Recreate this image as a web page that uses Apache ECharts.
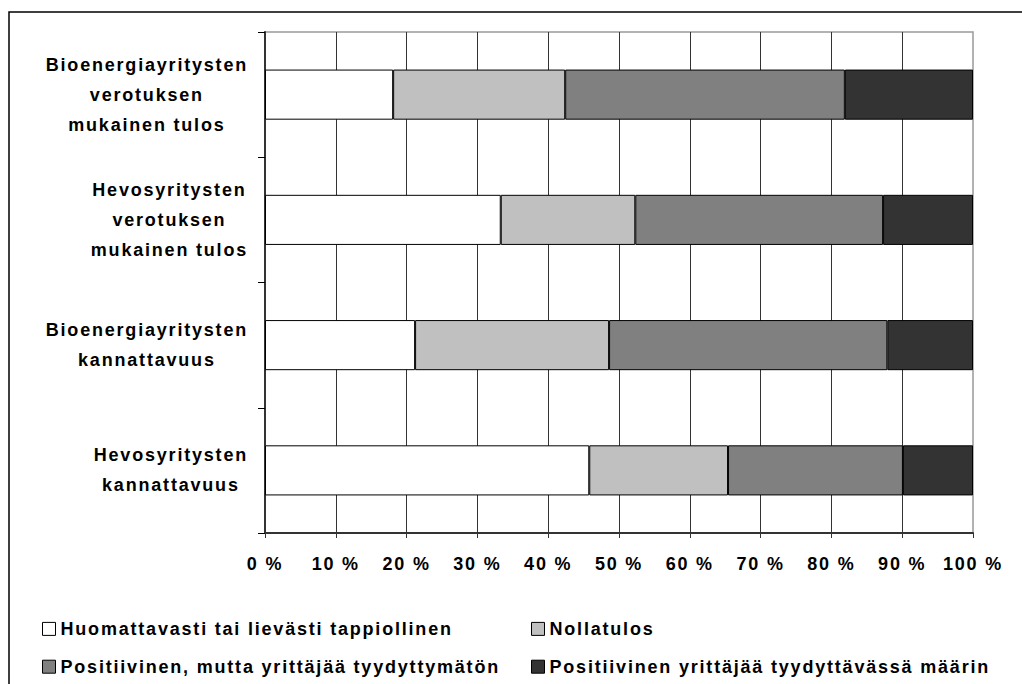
<!DOCTYPE html>
<html>
<head>
<meta charset="utf-8">
<script src="https://cdn.jsdelivr.net/npm/echarts@6/dist/echarts.min.js"></script>
<style>
html,body{margin:0;padding:0;background:#fff;}
#chart{width:1022px;height:684px;}
#chart text{letter-spacing:1.8px;}
</style>
</head>
<body>
<div id="chart"></div>
<script>
const categories = [
  "Bioenergiayritysten\nverotuksen\nmukainen tulos",
  "Hevosyritysten\nverotuksen\nmukainen tulos",
  "Bioenergiayritysten\nkannattavuus",
  "Hevosyritysten\nkannattavuus"
];
const seriesNames = [
  "Huomattavasti tai lievästi tappiollinen",
  "Nollatulos",
  "Positiivinen, mutta yrittäjää tyydyttymätön",
  "Positiivinen yrittäjää tyydyttävässä määrin"
];
const tappiollinen = [18.1, 33.3, 21.2, 45.8];
const nollatulos = [24.3, 19.0, 27.4, 19.6];
const tyydyttymaton = [39.5, 35.0, 39.3, 24.7];
const tyydyttava = [18.1, 12.7, 12.1, 9.9];
const xTicks = [0, 10, 20, 30, 40, 50, 60, 70, 80, 90, 100];

const colors = ['#FFFFFF', '#C0C0C0', '#808080', '#333333'];
const seriesData = [tappiollinen, nollatulos, tyydyttymaton, tyydyttava];
const FONT = '"Liberation Sans", Arial, sans-serif';
const LS = 1.8;

// text measurement that accounts for the letter spacing used when drawing
const mctx = document.createElement('canvas').getContext('2d');
echarts.setPlatformAPI({
  measureText: function (text, font) {
    mctx.font = font || '12px sans-serif';
    const w = mctx.measureText(text).width;
    return { width: w + String(text).length * LS };
  }
});

const chart = echarts.init(document.getElementById('chart'), null, { renderer: 'svg' });
const legendText = { fontFamily: FONT, fontSize: 18, fontWeight: 'bold', color: '#000' };
const option = {
  backgroundColor: '#fff',
  animation: false,
  graphic: [{
    type: 'rect',
    shape: { x: 9, y: 12, width: 1100, height: 800 },
    style: { fill: 'none', stroke: '#000', lineWidth: 1.5 },
    silent: true
  }],
  grid: {
    left: 265, right: 49, top: 32, bottom: 151,
    show: true, borderColor: '#999', borderWidth: 1.5, backgroundColor: 'transparent'
  },
  xAxis: {
    type: 'value',
    min: 0, max: 100, interval: 10,
    axisLine: { show: true, lineStyle: { color: '#333', width: 2 } },
    axisTick: { show: true, length: 5, lineStyle: { color: '#333' } },
    splitLine: { show: true, showMaxLine: false, lineStyle: { color: '#333', width: 1 } },
    axisLabel: {
      margin: 21,
      fontFamily: FONT, fontSize: 18, fontWeight: 'bold', color: '#000',
      formatter: function (v) { return xTicks.indexOf(v) >= 0 ? v + ' %' : ''; }
    }
  },
  yAxis: {
    type: 'category',
    inverse: true,
    data: categories,
    axisLine: { show: true, lineStyle: { color: '#333', width: 2 } },
    axisTick: { show: true, length: 7, lineStyle: { color: '#000' } },
    splitLine: { show: false },
    axisLabel: {
      margin: 17,
      align: 'right',
      formatter: function (v) {
        return v.split('\n').map(function (l) { return '{c|' + l + '}'; }).join('\n');
      },
      rich: {
        c: { align: 'center', fontFamily: FONT, fontSize: 18, fontWeight: 'bold', color: '#000', lineHeight: 30 }
      }
    }
  },
  legend: [
    {
      orient: 'vertical', left: 42, top: 619, itemGap: 18, padding: 0,
      itemWidth: 13, itemHeight: 13, icon: 'rect',
      itemStyle: { borderColor: '#000', borderWidth: 1 },
      textStyle: legendText,
      data: [seriesNames[0], seriesNames[2]]
    },
    {
      orient: 'vertical', left: 531, top: 619, itemGap: 18, padding: 0,
      itemWidth: 13, itemHeight: 13, icon: 'rect',
      itemStyle: { borderColor: '#000', borderWidth: 1 },
      textStyle: legendText,
      data: [seriesNames[1], seriesNames[3]]
    }
  ],
  series: seriesNames.map(function (name, i) {
    return {
      name: name,
      type: 'bar',
      stack: 'total',
      barWidth: '40%',
      data: seriesData[i],
      itemStyle: { color: colors[i], borderColor: '#000', borderWidth: 1 },
      emphasis: { disabled: true }
    };
  })
};
chart.setOption(option);
</script>
</body>
</html>
